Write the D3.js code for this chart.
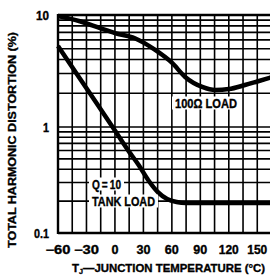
<!DOCTYPE html>
<html><head><meta charset="utf-8">
<script src="https://cdn.jsdelivr.net/npm/d3@7"></script>
<style>
html,body{margin:0;padding:0;background:#fff;overflow:hidden}
text{font-family:"Liberation Sans","Arial",sans-serif;font-weight:bold;fill:#000;stroke:#000;stroke-width:0.35px}
</style></head><body>
<svg id="c" width="270" height="277"></svg>
<script>
// Data
const load100T = [-60, -37, -15, 0, 21, 42, 60, 74, 92, 106, 120, 137, 150, 165];
const load100V = [9.8, 8.8, 7.6, 6.9, 6.2, 4.9, 3.75, 2.8, 2.28, 2.14, 2.18, 2.37, 2.55, 2.78];
const tankT = [-60, -40, -20, 0, 15, 25, 35, 45, 55, 65, 75, 100, 130, 165];
const tankV = [5.29, 2.96, 1.66, 0.925, 0.583, 0.438, 0.316, 0.244, 0.209, 0.196, 0.192, 0.192, 0.192, 0.192];
const xTicks = [-60, -30, 0, 30, 60, 90, 120, 150];
const xTickLabels = ["\u221260", "\u221230", "0", "30", "60", "90", "120", "150"];
const yTicks = [0.1, 1, 10];
const yTickLabels = ["0.1", "1", "10"];
const xGrid = d3.range(-60, 166, 15);
const yGrid = [0.1,0.2,0.3,0.4,0.5,0.6,0.7,0.8,0.9,1,2,3,4,5,6,7,8,9,10];

const svg = d3.select("#c");
const x = d3.scaleLinear().domain([-60, 165]).range([58, 271.5]);
const y = d3.scaleLog().domain([0.1, 1, 10]).range([233, 127, 15]);

const g = svg.append("g");
// grid
g.selectAll(".vg").data(xGrid).join("line")
  .attr("x1", d => x(d)).attr("x2", d => x(d)).attr("y1", y(10)).attr("y2", y(0.1))
  .attr("stroke", "#000").attr("stroke-width", 1.6);
g.selectAll(".hg").data(yGrid).join("line")
  .attr("x1", x(-60)).attr("x2", 272).attr("y1", d => y(d)).attr("y2", d => y(d))
  .attr("stroke", "#000").attr("stroke-width", 1.6);
// border
g.append("line").attr("x1", x(-60)).attr("x2", x(-60)).attr("y1", y(10)-1).attr("y2", y(0.1)+1).attr("stroke", "#000").attr("stroke-width", 2.4);
g.append("line").attr("x1", x(-60)).attr("x2", 272).attr("y1", y(0.1)).attr("y2", y(0.1)).attr("stroke", "#000").attr("stroke-width", 2.4);
g.append("line").attr("x1", x(-60)).attr("x2", 272).attr("y1", y(10)).attr("y2", y(10)).attr("stroke", "#000").attr("stroke-width", 2.4);

const line = d3.line().x(d => x(d[0])).y(d => y(d[1])).curve(d3.curveMonotoneX);
svg.append("path").attr("d", line(load100T.map((t, i) => [t, load100V[i]])))
  .attr("fill", "none").attr("stroke", "#000").attr("stroke-width", 4.5);
svg.append("path").attr("d", line(tankT.map((t, i) => [t, tankV[i]])))
  .attr("fill", "none").attr("stroke", "#000").attr("stroke-width", 4.5);

function fit(sel, len) {
  return sel.attr("textLength", len).attr("lengthAdjust", "spacingAndGlyphs");
}
// labels with white boxes
function boxLabel(txt, lx, by, len, fs) {
  svg.append("rect").attr("x", lx - 3).attr("y", by - 11.5).attr("width", len + 6).attr("height", 13).attr("fill", "#fff");
  fit(svg.append("text").attr("x", lx).attr("y", by).attr("font-size", fs).text(txt), len);
}
boxLabel("100\u03A9 LOAD", 175, 108, 62, 13);
boxLabel("Q\u2009=\u200910", 92, 189, 29, 12.5);
boxLabel("TANK LOAD", 92, 206, 63, 13);

// ticks
const xLen = {"\u221260": 25, "\u221230": 25, "0": 7, "30": 14, "60": 14, "90": 14, "120": 20, "150": 20};
svg.selectAll(".xt").data(xTicks).join("text")
  .attr("x", d => x(d)).attr("y", 254).attr("text-anchor", "middle").attr("font-size", 12)
  .text((d, i) => xTickLabels[i])
  .attr("textLength", (d, i) => xLen[xTickLabels[i]]).attr("lengthAdjust", "spacingAndGlyphs");
const yLen = {"0.1": 15, "1": 6, "10": 13};
svg.selectAll(".yt").data(yTicks).join("text")
  .attr("x", (d, i) => 49 - yLen[yTickLabels[i]]).attr("y", d => y(d) + 4.5).attr("font-size", 12)
  .text((d, i) => yTickLabels[i])
  .attr("textLength", (d, i) => yLen[yTickLabels[i]]).attr("lengthAdjust", "spacingAndGlyphs");

// axis titles
fit(svg.append("text").attr("transform", "translate(16,248) rotate(-90)")
  .attr("font-size", 11.5).text("TOTAL HARMONIC DISTORTION (%)"), 216);
const xt = svg.append("text").attr("x", 72).attr("y", 272).attr("font-size", 11.5);
fit(xt.append("tspan").text("T"), 7);
fit(xt.append("tspan").attr("font-size", 7.5).attr("dy", 1.5).text("J"), 4);
fit(xt.append("tspan").attr("dy", -1.5).text("\u2014JUNCTION TEMPERATURE (\u00B0C)"), 182);
</script></body></html>
